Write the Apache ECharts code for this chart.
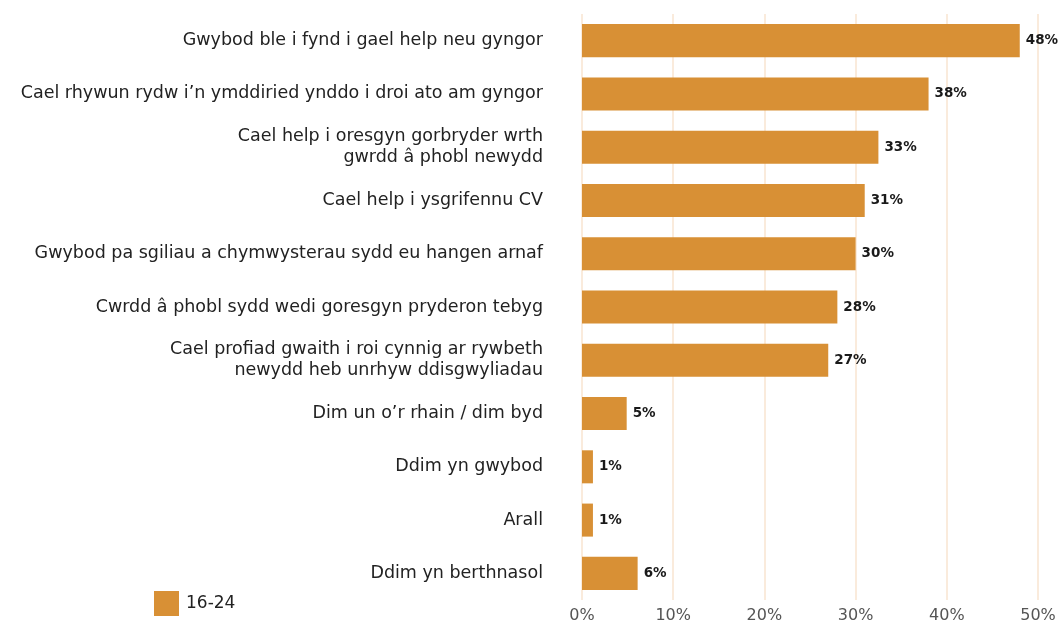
<!DOCTYPE html>
<html>
<head>
  <meta charset="utf-8">
  <title>16-24</title>
  <script src="https://cdn.jsdelivr.net/npm/echarts@6/dist/echarts.min.js"></script>
  <style>
    html, body { margin: 0; padding: 0; background: #fff; }
  </style>
</head>
<body>
  <div id="chart" style="width: 1062px; height: 624px;"></div>

  <script>
    // categories, top to bottom
    const categories = [
      'Gwybod ble i fynd i gael help neu gyngor',
      'Cael rhywun rydw i’n ymddiried ynddo i droi ato am gyngor',
      'Cael help i oresgyn gorbryder wrth\ngwrdd â phobl newydd',
      'Cael help i ysgrifennu CV',
      'Gwybod pa sgiliau a chymwysterau sydd eu hangen arnaf',
      'Cwrdd â phobl sydd wedi goresgyn pryderon tebyg',
      'Cael profiad gwaith i roi cynnig ar rywbeth\nnewydd heb unrhyw ddisgwyliadau',
      'Dim un o’r rhain / dim byd',
      'Ddim yn gwybod',
      'Arall',
      'Ddim yn berthnasol'
    ];
    const values = [48, 38, 32.5, 31, 30, 28, 27, 4.9, 1.2, 1.2, 6.1];
    const seriesName = '16-24';
    const barColor = '#D89035';
    const fontFamily = 'DejaVu Sans, sans-serif';

    const chart = echarts.init(document.getElementById('chart'));

    chart.setOption({
      animation: false,
      grid: { left: 582, right: 24, top: 14, bottom: 23 },
      legend: {
        left: 154,
        top: 591,
        padding: 0,
        itemWidth: 25,
        itemHeight: 25,
        icon: 'rect',
        itemGap: 10,
        textStyle: { fontFamily: fontFamily, fontSize: 17, color: '#222', padding: [0, 0, 0, 2] },
        data: [seriesName]
      },
      xAxis: {
        type: 'value',
        min: 0,
        max: 50,
        interval: 10,
        axisLine: { show: false },
        axisTick: { show: false },
        splitLine: { lineStyle: { color: '#FAEBDC', width: 2 } },
        axisLabel: {
          formatter: '{value}%',
          margin: 8,
          fontFamily: fontFamily,
          fontSize: 16,
          color: '#555'
        }
      },
      yAxis: {
        type: 'category',
        inverse: true,
        data: categories,
        axisLine: { show: false },
        axisTick: { show: false },
        axisLabel: {
          margin: 39,
          fontFamily: fontFamily,
          fontSize: 17.5,
          lineHeight: 21,
          color: '#222',
          align: 'right'
        }
      },
      series: [
        {
          name: seriesName,
          type: 'bar',
          data: values,
          barCategoryGap: '38%',
          itemStyle: { color: barColor },
          label: {
            show: true,
            position: 'right',
            distance: 6,
            formatter: function (p) { return Math.round(p.value) + '%'; },
            fontFamily: fontFamily,
            fontWeight: 'bold',
            fontSize: 13.5,
            color: '#1a1a1a'
          }
        }
      ]
    });
  </script>
</body>
</html>
